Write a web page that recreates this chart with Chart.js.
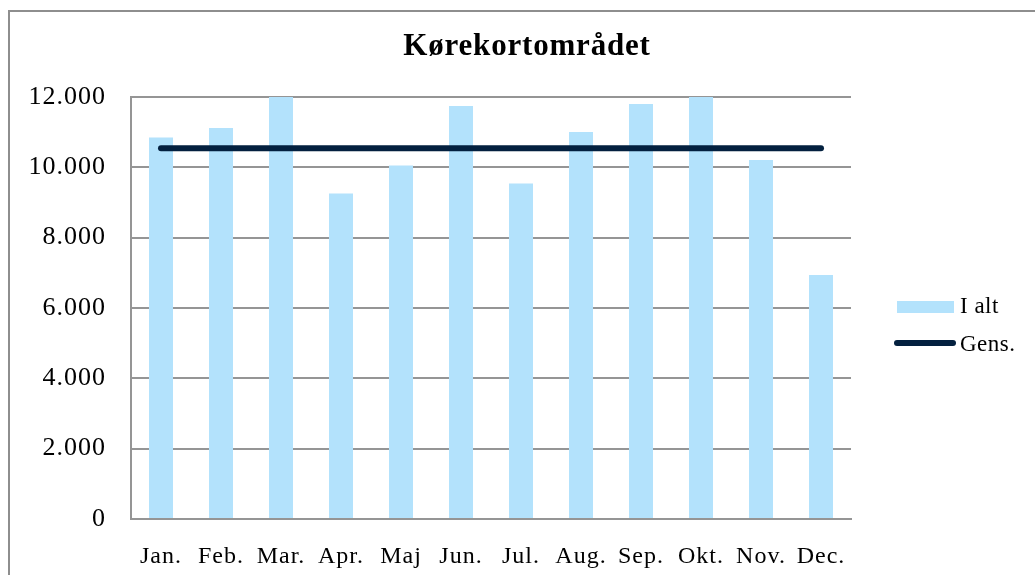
<!DOCTYPE html>
<html>
<head>
<meta charset="utf-8">
<script src="https://cdn.jsdelivr.net/npm/chart.js@4"></script>
<style>
  html, body { margin: 0; padding: 0; background: #fff; overflow: hidden; }
  #wrap { position: relative; width: 1035px; height: 575px; }
  #frame {
    position: absolute; left: 8px; top: 10px; width: 1100px; height: 700px;
    border-left: 2px solid #8e8e8e; border-top: 2px solid #8e8e8e;
    pointer-events: none;
  }
</style>
</head>
<body>
<div id="wrap">
  <canvas id="chart" width="1035" height="575"></canvas>
  <div id="frame"></div>
</div>
<script>
// --- Data ---
const months = ['Jan.', 'Feb.', 'Mar.', 'Apr.', 'Maj', 'Jun.', 'Jul.', 'Aug.', 'Sep.', 'Okt.', 'Nov.', 'Dec.'];
const iAlt = [10850, 11120, 12000, 9255, 10050, 11745, 9540, 11005, 11800, 12000, 10210, 6935];
const gens = [10540, 10540, 10540, 10540, 10540, 10540, 10540, 10540, 10540, 10540, 10540, 10540];
const yTickLabels = ['0', '2.000', '4.000', '6.000', '8.000', '10.000', '12.000'];

const FONT = "'Liberation Serif', 'Times New Roman', serif";
const barColor = '#b3e2fc';
const lineColor = '#03203f';
const gridColor = '#959595';

// the source text is set a little wide, so space the letters out a bit
const spacing = {
    id: 'spacing',
    beforeDraw(chart) {
        chart.ctx.letterSpacing = '1px';
    }
};

// title + legend drawn by hand so the plot area keeps its place
const decor = {
    id: 'decor',
    afterDraw(chart) {
        const ctx = chart.ctx;
        ctx.save();
        ctx.fillStyle = '#000';
        ctx.textBaseline = 'middle';
        ctx.textAlign = 'center';
        ctx.letterSpacing = '0.8px';
        ctx.font = 'bold 31px ' + FONT;
        ctx.fillText('Kørekortområdet', 527, 47);

        // legend
        ctx.textAlign = 'left';
        ctx.letterSpacing = '0.5px';
        ctx.font = '23px ' + FONT;
        ctx.fillStyle = barColor;
        ctx.fillRect(897, 301, 57, 12);
        ctx.fillStyle = '#000';
        ctx.fillText('I alt', 960, 307);

        ctx.strokeStyle = lineColor;
        ctx.lineWidth = 6;
        ctx.lineCap = 'round';
        ctx.beginPath();
        ctx.moveTo(897, 343);
        ctx.lineTo(953, 343);
        ctx.stroke();
        ctx.fillText('Gens.', 960, 345);
        ctx.restore();
    }
};

new Chart(document.getElementById('chart'), {
    data: {
        labels: months,
        datasets: [{
            type: 'line',
            label: 'Gens.',
            data: gens,
            borderColor: lineColor,
            borderWidth: 6,
            borderCapStyle: 'round',
            pointRadius: 0,
            tension: 0,
            order: 0
        }, {
            type: 'bar',
            label: 'I alt',
            data: iAlt,
            backgroundColor: barColor,
            categoryPercentage: 1,
            barPercentage: 0.4,
            order: 1
        }]
    },
    options: {
        responsive: false,
        animation: false,
        layout: { padding: { top: 97, right: 184, bottom: 0, left: 0 } },
        plugins: {
            legend: { display: false },
            title: { display: false },
            tooltip: { enabled: false }
        },
        scales: {
            x: {
                grid: { display: false },
                border: { display: true, color: gridColor, width: 2 },
                ticks: {
                    color: '#000',
                    font: { family: FONT, size: 24 },
                    padding: 15,
                    maxRotation: 0,
                    autoSkip: false
                },
                afterFit(scale) { scale.height = 56; }
            },
            y: {
                min: 0,
                max: 12000,
                grid: { color: gridColor, lineWidth: 2, drawTicks: false },
                border: { display: true, color: gridColor, width: 2 },
                ticks: {
                    stepSize: 2000,
                    color: '#000',
                    font: { family: FONT, size: 26 },
                    padding: 25,
                    callback: (v, i) => yTickLabels[i]
                },
                afterFit(scale) { scale.width = 131; }
            }
        }
    },
    plugins: [spacing, decor]
});
</script>
</body>
</html>
